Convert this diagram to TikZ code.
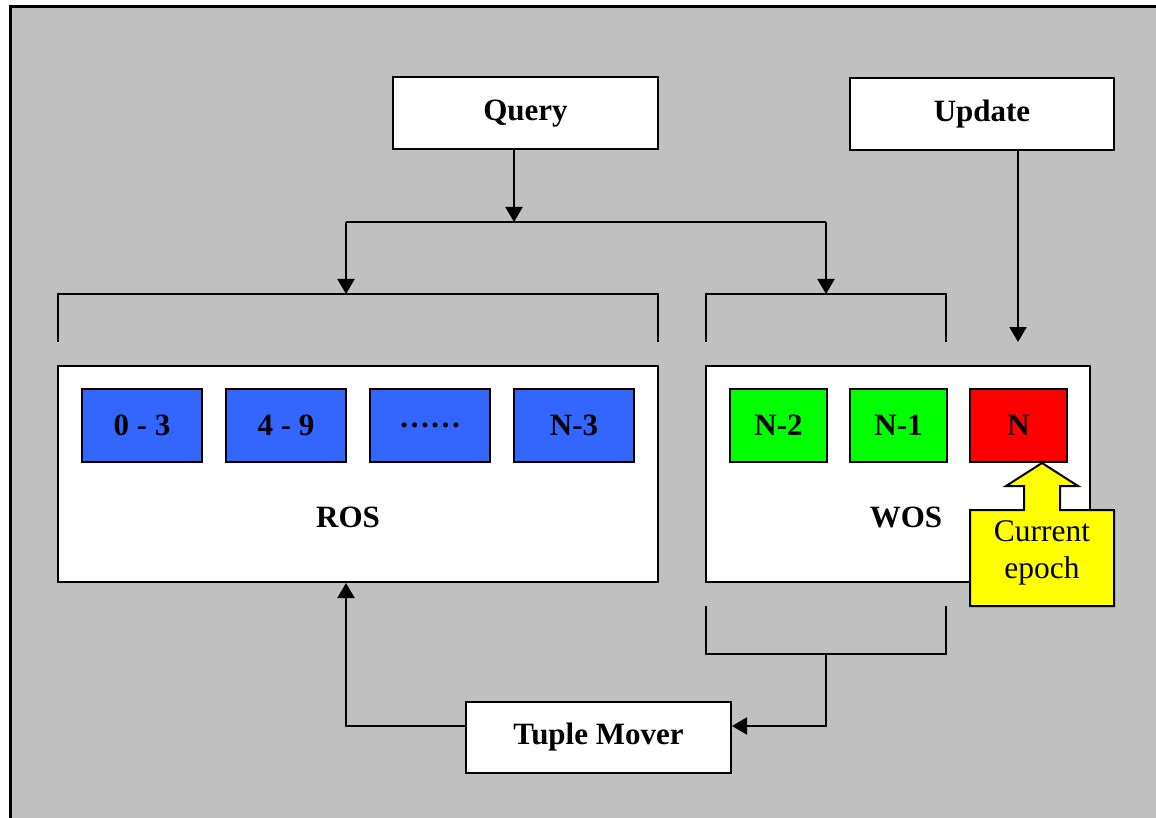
\documentclass[tikz,border=0pt]{standalone}
\usepackage{fontspec}
\setmainfont{Liberation Serif}
\usetikzlibrary{arrows.meta}

\definecolor{panelgray}{HTML}{C0C0C0}
\definecolor{rosblue}{HTML}{3366FF}
\definecolor{wosgreen}{HTML}{00FF00}
\definecolor{epochred}{HTML}{FF0000}
\definecolor{noteyellow}{HTML}{FFFF00}

\begin{document}
\begin{tikzpicture}[x=1pt, y=-1pt, line width=2pt, every node/.style={font=\fontsize{31}{35}\selectfont\bfseries}]
        \tikzstyle{box}=[draw, fill=white, shape=rectangle, inner sep=0pt]
        \tikzstyle{block}=[box, minimum width=120pt, minimum height=73pt, fill=rosblue]
        \tikzstyle{epoch}=[box, minimum width=97pt, minimum height=73pt]
        \tikzstyle{label}=[fill=none, draw=none]
        \tikzstyle{arrow}=[-{Triangle[length=15pt, width=17pt]}]
        \useasboundingbox (0,0) rectangle (1156,818);
        \clip (0,0) rectangle (1156,818);

        % background panel, cut at the right and bottom
        \draw [line width=3pt, fill=panelgray] (10.5,6.5) rectangle (1180,840);

        \node [style=box, minimum width=265pt, minimum height=72pt] (0) at (525.5,113.5) {Query};
        \node [style=box, minimum width=264pt, minimum height=72pt] (1) at (982,114) {Update};
        \node [style=box, minimum width=600pt, minimum height=216pt] (2) at (358,474) {};
        \node [style=box, minimum width=384pt, minimum height=216pt] (3) at (898,474) {};

        \node [style=block] (4) at (142,425.5) {0 - 3};
        \node [style=block] (5) at (286,425.5) {4 - 9};
        \node [style=block] (6) at (430,425.5) {……};
        \node [style=block] (7) at (574,425.5) {N-3};

        \node [style=epoch, fill=wosgreen] (8) at (778.5,425.5) {N-2};
        \node [style=epoch, fill=wosgreen] (9) at (898.5,425.5) {N-1};
        \node [style=epoch, fill=epochred] (10) at (1018.5,425.5) {N};

        \node [style=label] (11) at (348,517) {ROS};
        \node [style=label] (12) at (906,517) {WOS};

        \node [style=box, minimum width=265pt, minimum height=71pt] (13) at (598.5,737.5) {Tuple Mover};

        % callout pointing at the newest epoch
        \coordinate (t) at (1042,462);
        \draw [fill=noteyellow] (970,510) -- (1024,510) -- (1024,486) -- (1006,486) -- (t |- 10.south)
            -- (1078,486) -- (1060,486) -- (1060,510) -- (1114,510) -- (1114,606) -- (970,606) -- cycle;
        \node [style=label, font=\fontsize{31.5}{37}\selectfont, align=center] (14) at (1042,553) {Current\\epoch};

        \coordinate (q) at (514,222);
        \coordinate (u) at (1018,342);
        \coordinate (m) at (826,726);
        \coordinate (r) at (346,726);

        % query fans out to both stores
        \draw [style=arrow] (0.south -| q) to (q);
        \draw (346,222) to (826,222);
        \draw [style=arrow] (346,222) to (346,294);
        \draw [style=arrow] (826,222) to (826,294);
        \draw (58,342) -- (58,294) -- (658,294) -- (658,342);
        \draw (706,342) -- (706,294) -- (946,294) -- (946,342);

        \draw [style=arrow] (1.south -| u) to (u);

        % tuple mover loop
        \draw (706,606) -- (706,654) -- (946,654) -- (946,606);
        \draw [style=arrow] (826,654) -- (m) -- (m -| 13.east);
        \draw [style=arrow] (m -| 13.west) -- (r) -- (r |- 2.south);
\end{tikzpicture}
\end{document}
